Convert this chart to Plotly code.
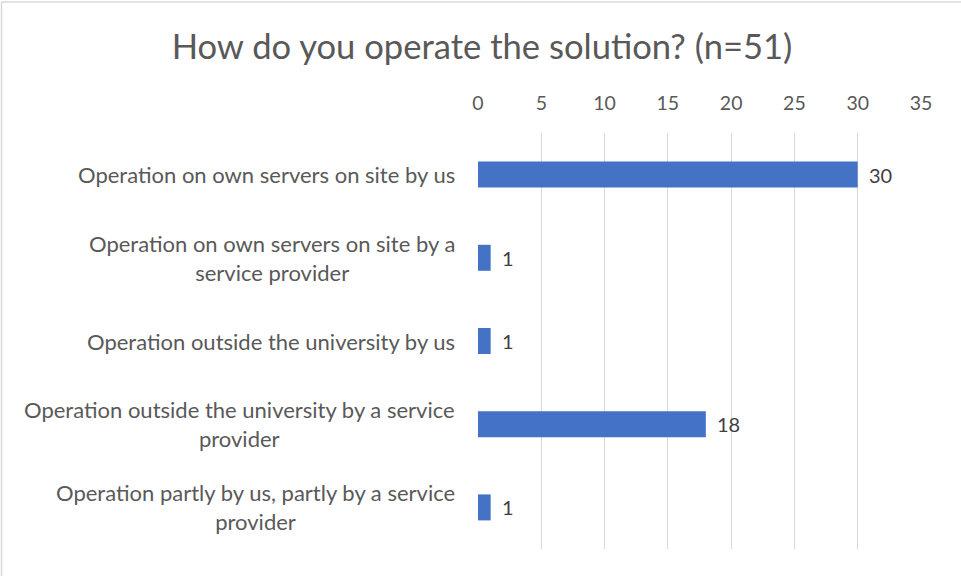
import plotly.graph_objects as go

categories = [
    "Operation on own servers on site by us",
    "Operation on own servers on site by a<br>service provider",
    "Operation outside the university by us",
    "Operation outside the university by a service<br>provider",
    "Operation partly by us, partly by a service<br>provider",
]
values = [30, 1, 1, 18, 1]
x_ticks = [0, 5, 10, 15, 20, 25, 30, 35]
title_text = "How do you operate the solution? (n=51)"

W, H = 961, 576
L, R, T, B = 478, 40, 133, 27
PW, PH = W - L - R, H - T - B

FONT = "Lato"
TXT = "#595959"

fig = go.Figure()
fig.add_trace(go.Bar(
    y=categories, x=values, orientation="h",
    marker=dict(color="#4472C4", line=dict(width=0)),
    hoverinfo="skip",
))

annotations = []
for cat in categories:
    annotations.append(dict(
        x=-21 / PW, xref="paper", y=cat, yref="y",
        text=cat, showarrow=False, xanchor="right", align="center",
        yanchor="middle",
        font=dict(family=FONT, size=22, color=TXT),
    ))

for cat, v in zip(categories, values):
    annotations.append(dict(
        x=v, xref="x", y=cat, yref="y", text=str(v), showarrow=False,
        xanchor="left", xshift=9, yanchor="middle",
        font=dict(family=FONT, size=20, color="#404040"),
    ))

fig.update_layout(
    width=W, height=H,
    margin=dict(l=L, r=R, t=T, b=B, pad=0),
    paper_bgcolor="white", plot_bgcolor="white",
    showlegend=False,
    bargap=0.6875,
    annotations=annotations,
    title=dict(text=title_text, x=482 / W, xanchor="center", y=1 - 47 / H, yanchor="middle",
               font=dict(family=FONT, size=34.6, color=TXT)),
    xaxis=dict(
        side="top", range=[0, 35], tickvals=x_ticks, showgrid=True, gridcolor="#D9D9D9",
        gridwidth=1, zeroline=False, showline=False,
        ticks="outside", ticklen=14, tickcolor="rgba(0,0,0,0)",
        tickfont=dict(family=FONT, size=19.5, color=TXT), fixedrange=True,
    ),
    yaxis=dict(
        autorange="reversed", showticklabels=False, showgrid=False, zeroline=False,
        showline=False, ticks="", fixedrange=True,
    ),
    shapes=[
        dict(type="line", xref="paper", yref="paper",
             x0=(1.5 - L) / PW, x1=(1.5 - L) / PW, y0=1 + (T - 2) / PH, y1=-(B + 5) / PH,
             line=dict(color="#D9D9D9", width=1.5)),
        dict(type="line", xref="paper", yref="paper",
             x0=(1 - L) / PW, x1=(W + 5 - L) / PW, y0=1 + (T - 2) / PH, y1=1 + (T - 2) / PH,
             line=dict(color="#D9D9D9", width=1.5)),
    ],
)

fig.write_html(
    "out.html",
    config={"displayModeBar": False},
    post_script="document.body.style.margin='0';document.body.style.overflow='hidden';",
)
